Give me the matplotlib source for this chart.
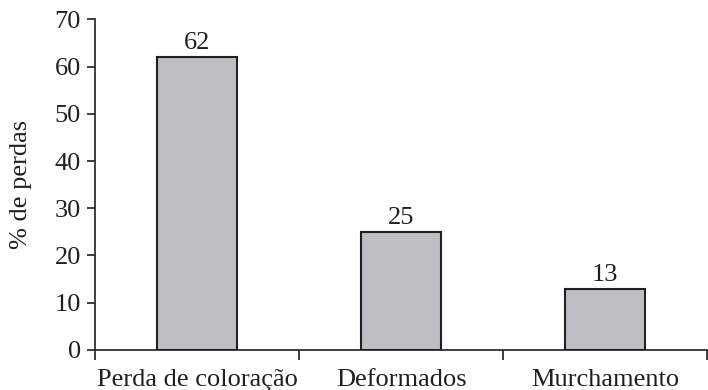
import matplotlib
matplotlib.use("Agg")
import matplotlib.pyplot as plt
import numpy as np

categories = ["Perda de coloração", "Deformados", "Murchamento"]
values = [62, 25, 13]
yticks = [0, 10, 20, 30, 40, 50, 60, 70]

plt.rcParams['font.family'] = ['Liberation Serif', 'DejaVu Serif']
plt.rcParams['font.size'] = 19

fig = plt.figure(figsize=(7.08, 3.9), dpi=100)
ax = fig.add_axes([0.134, 0.1026, 0.865, 0.848])

x = np.arange(len(categories)) + 0.5
bars = ax.bar(x, values, width=0.39, color="#bebfc3", edgecolor="#231f20", linewidth=1.5)
for xi, v in zip(x, values):
    ax.text(xi, v + 0.6, str(v), ha="center", va="bottom", fontsize=19, color="#231f20")

ax.set_xlim(0, 3)
ax.set_ylim(0, 70)
ax.set_yticks(yticks)
ax.set_xticks(np.arange(len(categories) + 1))
ax.set_xticklabels([])
ax.set_xticks(x, minor=True)
ax.set_xticklabels(categories, minor=True)
ax.tick_params(axis="x", which="minor", length=0, pad=14, labelsize=19, labelcolor="#231f20")
ax.tick_params(axis="x", which="major", length=7, width=1.2, direction="out", color="#231f20")
ax.tick_params(axis="y", length=6, width=1.2, direction="out", pad=4, labelsize=19,
               color="#231f20", labelcolor="#231f20")
ax.set_ylabel("% de perdas", fontsize=19, labelpad=16, color="#231f20")

for s in ["top", "right"]:
    ax.spines[s].set_visible(False)
for s in ["left", "bottom"]:
    ax.spines[s].set_linewidth(1.2)
    ax.spines[s].set_color("#231f20")

fig.savefig("out.png", dpi=100)
